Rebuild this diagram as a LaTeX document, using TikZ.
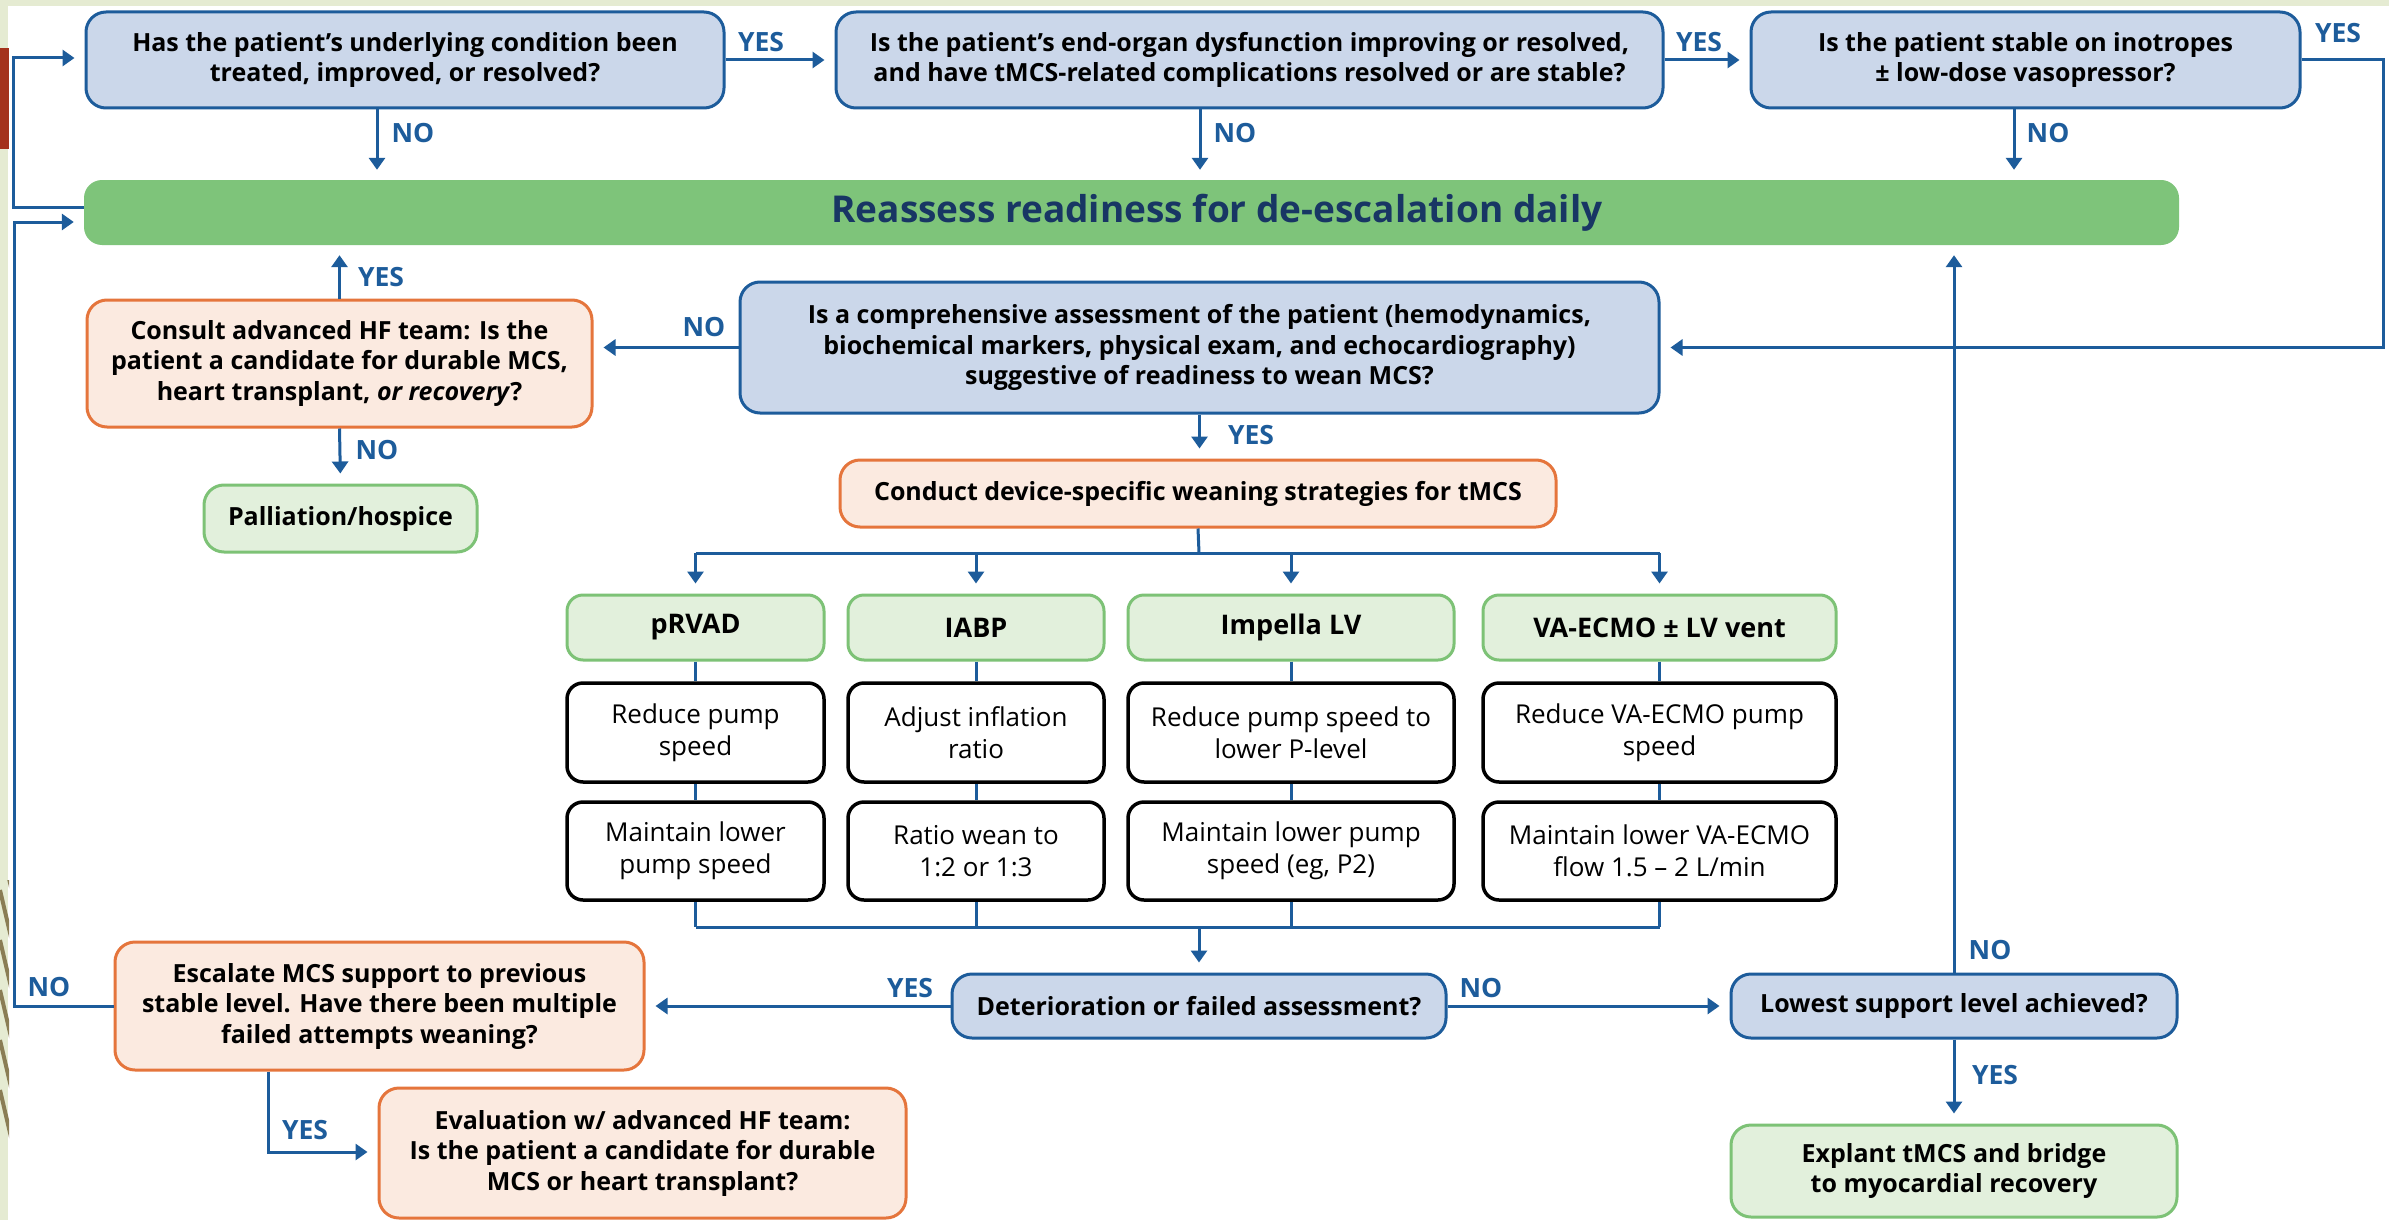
\documentclass[tikz,border=0pt]{standalone}
\usepackage{fontspec}
\setmainfont{Open Sans}
\usetikzlibrary{arrows.meta}
\definecolor{lnblue}{RGB}{29,92,155}
\definecolor{bxblue}{RGB}{203,215,234}
\definecolor{lnorange}{RGB}{229,117,60}
\definecolor{bxorange}{RGB}{251,234,224}
\definecolor{lngreen}{RGB}{125,194,118}
\definecolor{bxgreen}{RGB}{226,240,220}
\definecolor{bargreen}{RGB}{126,196,122}
\definecolor{ttlnavy}{RGB}{24,54,100}
\definecolor{framecream}{RGB}{229,235,210}
\definecolor{redbar}{RGB}{164,50,28}
\definecolor{stripeolive}{RGB}{138,125,85}
\newcommand{\qtxt}{\bfseries\fontsize{25}{30.5}\selectfont}
\newcommand{\steptxt}{\fontsize{26}{32}\selectfont}
\newcommand{\hdrtxt}{\bfseries\fontsize{27}{30}\selectfont}
\newcommand{\lbltxt}{\bfseries\fontsize{26.5}{26.5}\selectfont}
\newcommand{\ttltxt}{\bfseries\fontsize{37}{40}\selectfont}
\tikzset{
 boxbase/.style={rounded corners=20pt, line width=3pt, align=center, inner sep=0pt, font=\qtxt, text=black},
 bluebox/.style={boxbase, draw=lnblue, fill=bxblue},
 orangebox/.style={boxbase, draw=lnorange, fill=bxorange},
 greenbox/.style={boxbase, draw=lngreen, fill=bxgreen},
 hdrbox/.style={greenbox, rounded corners=16pt, font=\hdrtxt},
 stepbox/.style={boxbase, draw=black, line width=3.5pt, fill=white, font=\steptxt, rounded corners=16pt},
 conn/.style={draw=lnblue, line width=3pt},
 arr/.style={conn, -{Triangle[length=12pt,width=16pt]}, shorten >=10pt},
 lbl/.style={text=lnblue, font=\lbltxt, inner sep=0pt},
}
\begin{document}
\begin{tikzpicture}[x=1pt,y=-1pt]
\useasboundingbox (0,0) rectangle (2389,1220);
% background frame
\fill[white] (0,0) rectangle (2389,1220);
\fill[framecream] (0,0) rectangle (2389,6);
\fill[framecream] (0,0) rectangle (8,1220);
\fill[redbar] (0,48) rectangle (9,149);
\begin{scope}
\clip (0,880) rectangle (9,1150);
\foreach \yy in {840,890,940,990,1040,1090} {
  \draw[stripeolive, line width=4pt] (0,\yy) -- (14,\yy+60);
}
\end{scope}

% top row
\node[bluebox, minimum width=638pt, minimum height=96pt] (q1) at (405,60)
  {Has the patient’s underlying condition been\\treated, improved, or resolved?};
\node[bluebox, minimum width=827pt, minimum height=96pt] (q2) at (1249.5,60)
  {Is the patient’s end-organ dysfunction improving or resolved,\\and have tMCS-related complications resolved or are stable?};
\node[bluebox, minimum width=549pt, minimum height=96pt] (q3) at (2025.5,60)
  {Is the patient stable on inotropes\\± low-dose vasopressor?};

% green bar
\node[fill=bargreen, rounded corners=18pt, minimum width=2095pt, minimum height=65pt, inner sep=0pt] (reassess) at (1131.5,212.5) {};
\node[font=\ttltxt, text=ttlnavy, inner sep=0pt] (ttl) at (1217,213) {Reassess readiness for de-escalation daily};

% middle
\node[orangebox, minimum width=505pt, minimum height=127pt] (consult) at (339.5,363.5)
  {Consult advanced HF team: Is the\\patient a candidate for durable MCS,\\heart transplant, \textit{or recovery}?};
\node[greenbox, minimum width=273pt, minimum height=67pt] (pall) at (340.5,518.5) {Palliation/hospice};
\node[bluebox, minimum width=919pt, minimum height=131pt] (q4) at (1199.5,347.5)
  {Is a comprehensive assessment of the patient (hemodynamics,\\biochemical markers, physical exam, and echocardiography)\\suggestive of readiness to wean MCS?};
\node[orangebox, minimum width=716pt, minimum height=67pt] (conduct) at (1198,493.5)
  {Conduct device-specific weaning strategies for tMCS};

% device columns
\node[hdrbox, minimum width=257pt, minimum height=65pt] (h1) at (695.5,627.5) {pRVAD};
\node[hdrbox, minimum width=256pt, minimum height=65pt] (h2) at (976,627.5) {IABP};
\node[hdrbox, minimum width=326pt, minimum height=65pt] (h3) at (1291,627.5) {Impella LV};
\node[hdrbox, minimum width=353pt, minimum height=65pt] (h4) at (1659.5,627.5) {VA-ECMO ± LV vent};

\node[stepbox, minimum width=257pt, minimum height=99pt] (s1a) at (695.5,732.5) {Reduce pump\\speed};
\node[stepbox, minimum width=256pt, minimum height=99pt] (s2a) at (976,732.5) {Adjust inflation\\ratio};
\node[stepbox, minimum width=326pt, minimum height=99pt] (s3a) at (1291,732.5) {Reduce pump speed to\\lower P-level};
\node[stepbox, minimum width=353pt, minimum height=99pt] (s4a) at (1659.5,732.5) {Reduce VA-ECMO pump\\speed};

\node[stepbox, minimum width=257pt, minimum height=98pt] (s1b) at (695.5,851) {Maintain lower\\pump speed};
\node[stepbox, minimum width=256pt, minimum height=98pt] (s2b) at (976,851) {Ratio wean to\\1:2 or 1:3};
\node[stepbox, minimum width=326pt, minimum height=98pt] (s3b) at (1291,851) {Maintain lower pump\\speed (eg, P2)};
\node[stepbox, minimum width=353pt, minimum height=98pt] (s4b) at (1659.5,851) {Maintain lower VA-ECMO\\flow 1.5 – 2 L/min};

% bottom
\node[bluebox, minimum width=494pt, minimum height=64pt] (det) at (1199,1006) {Deterioration or failed assessment?};
\node[orangebox, minimum width=529pt, minimum height=128pt] (esc) at (379.5,1006)
  {Escalate MCS support to previous\\stable level. Have there been multiple\\failed attempts weaning?};
\node[bluebox, minimum width=446pt, minimum height=64pt] (low) at (1954,1006) {Lowest support level achieved?};
\node[greenbox, minimum width=446pt, minimum height=92pt] (expl) at (1954,1171) {Explant tMCS and bridge\\to myocardial recovery};
\node[orangebox, minimum width=527pt, minimum height=130pt] (evalbox) at (642.5,1153)
  {Evaluation w/ advanced HF team:\\Is the patient a candidate for durable\\MCS or heart transplant?};

% helper coordinates
\coordinate (n1) at (377,0);
\coordinate (n2) at (1200,0);
\coordinate (n3) at (2014,0);
\coordinate (lA) at (13,207);
\coordinate (lB) at (13,58);
\coordinate (lC) at (14,1006);
\coordinate (lD) at (14,222);
\coordinate (rA) at (2383,60);
\coordinate (rB) at (2383,347.5);
\coordinate (br) at (1199,553);
\coordinate (jn) at (1199,927);
\coordinate (ev) at (268,1152);

% connectors, top
\draw[arr] (q1.east) -- (q2.west);
\draw[arr] (q2.east) -- (q3.west);
\draw[arr] (q3.east) -- (rA) -- (rB) -- (q4.east);
\draw[arr] (q1.south -| n1) -- (reassess.north -| n1);
\draw[arr] (q2.south -| n2) -- (reassess.north -| n2);
\draw[arr] (q3.south -| n3) -- (reassess.north -| n3);
\draw[arr] (lA -| reassess.west) -- (lA) -- (lB) -- (lB -| q1.west);
\draw[arr] (esc.west) -- (lC) -- (lD) -- (lD -| reassess.west);

% middle connectors
\draw[arr] (consult.north) -- (consult.north |- reassess.south);
\draw[arr] (q4.west) -- (q4.west -| consult.east);
\draw[arr] (consult.south) -- (pall.north);
\draw[arr] (q4.south) -- (q4.south |- conduct.north);

% branch
\draw[conn] (conduct.south) -- (br);
\draw[conn] (br -| h1.north) -- (br -| h4.north);
\draw[arr] (br -| h1.north) -- (h1.north);
\draw[arr] (br -| h2.north) -- (h2.north);
\draw[arr] (br -| h3.north) -- (h3.north);
\draw[arr] (br -| h4.north) -- (h4.north);
\foreach \c in {1,2,3,4} {
  \draw[conn] (h\c.south) -- (s\c a.north);
  \draw[conn] (s\c a.south) -- (s\c b.north);
  \draw[conn] (s\c b.south) -- (jn -| s\c b.south);
}
\draw[conn] (jn -| s1b.south) -- (jn -| s4b.south);
\draw[arr] (jn) -- (det.north);

% bottom connectors
\draw[arr] (det.west) -- (esc.east);
\draw[arr] (det.east) -- (low.west);
\draw[arr] (low.north) -- (low.north |- reassess.south);
\draw[arr] (low.south) -- (expl.north);
\draw[arr] (esc.south -| ev) -- (ev) -- (ev -| evalbox.west);

% labels
\node[lbl] (l1) at (761,42) {YES};
\node[lbl] (l2) at (1699,42) {YES};
\node[lbl] (l3) at (2338,33) {YES};
\node[lbl] (l4) at (413,133) {NO};
\node[lbl] (l5) at (1235,133) {NO};
\node[lbl] (l6) at (2048,133) {NO};
\node[lbl] (l7) at (381,277) {YES};
\node[lbl] (l8) at (704,327) {NO};
\node[lbl] (l9) at (377,450) {NO};
\node[lbl] (l10) at (1251,435) {YES};
\node[lbl] (l11) at (910,988) {YES};
\node[lbl] (l12) at (1481,988) {NO};
\node[lbl] (l13) at (1990,950) {NO};
\node[lbl] (l14) at (1995,1075) {YES};
\node[lbl] (l15) at (49,987) {NO};
\node[lbl] (l16) at (305,1130) {YES};
\end{tikzpicture}
\end{document}
